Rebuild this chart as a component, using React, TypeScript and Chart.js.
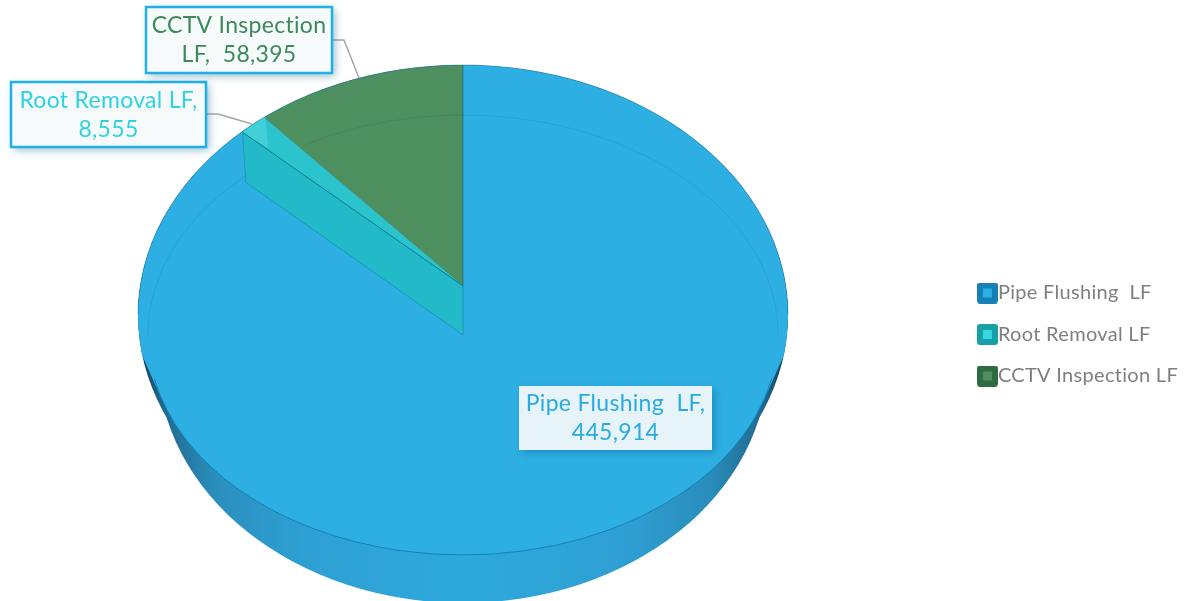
import React, { useEffect, useRef } from "react";
import { Chart, registerables } from "chart.js";

Chart.register(...registerables);

const categories = ["Pipe Flushing  LF", "Root Removal LF", "CCTV Inspection LF"];
const linearFeet = [445914, 8555, 58395];
const sliceColors = ["#2EAFE3", "#2BC3CC", "#4E8F60"];
const swatchOuter = ["#1580B5", "#17A0A6", "#2E6B41"];
const swatchInner = ["#2EAEE2", "#3AD6DF", "#4E8F60"];
const calloutText = ["#29ABE2", "#2DD3E0", "#3C8A5A"];

const FONT = "Lato, 'Noto Sans', sans-serif";
const CX = 463;
const E_BACK = { y: 315, rx: 325, ry: 250 };
const E_LOW = { y: 360, rx: 305, ry: 243 };
const E_TOP = { y: 335, rx: 315, ry: 220 };
const E_FLOOR = { y: 286, rx: 300, ry: 221 };
const E_WALL = { y: 335, rx: 297, ry: 224 };

type Ell = { y: number; rx: number; ry: number };

const ellipsePath = (ctx: CanvasRenderingContext2D, e: Ell) => {
  ctx.beginPath();
  ctx.ellipse(CX, e.y, e.rx, e.ry, 0, 0, Math.PI * 2);
};
const pointOn = (e: Ell, a: number, k = 1) => ({
  x: CX + Math.cos(a) * e.rx * k,
  y: e.y + Math.sin(a) * e.ry * k,
});
const poly = (ctx: CanvasRenderingContext2D, pts: { x: number; y: number }[]) => {
  ctx.beginPath();
  pts.forEach((p, i) => (i ? ctx.lineTo(p.x, p.y) : ctx.moveTo(p.x, p.y)));
};
const drawArcOn = (ctx: CanvasRenderingContext2D, arc: any, e: Ell, k = 1) => {
  ctx.save();
  ctx.translate(CX, e.y);
  ctx.scale((e.rx * k) / arc.outerRadius, (e.ry * k) / arc.outerRadius);
  ctx.translate(-arc.x, -arc.y);
  arc.draw(ctx);
  ctx.restore();
};

const pie3d = {
  id: "pie3d",
  beforeDatasetsDraw(chart: any) {
    const ctx: CanvasRenderingContext2D = chart.ctx;
    const arcs = chart.getDatasetMeta(0).data;
    const rootStart = arcs[1].startAngle;
    const cctvStart = arcs[2].startAngle;

    // side wall
    const g = ctx.createLinearGradient(138, 0, 788, 0);
    [
      [0, "#15425C"], [0.04, "#1F6A8F"], [0.12, "#2B8FBE"], [0.25, "#2E9FD2"],
      [0.5, "#2EA9DC"], [0.75, "#2E9FD2"], [0.88, "#2A8DBC"], [0.96, "#1F6A8F"], [1, "#123F58"],
    ].forEach(([s, c]) => g.addColorStop(s as number, c as string));
    ctx.fillStyle = g;
    ellipsePath(ctx, E_BACK);
    ctx.fill();
    ellipsePath(ctx, E_LOW);
    ctx.fill();

    // rim of the large slice, tapering into the wall at both sides
    ctx.save();
    poly(ctx, [
      { x: 0, y: 0 }, { x: 1185, y: 0 }, { x: 1185, y: 320 }, { x: 783, y: 357 },
      { x: 764, y: 400 }, { x: 162, y: 400 }, { x: 143, y: 357 }, { x: 0, y: 320 },
    ]);
    ctx.closePath();
    ctx.clip();
    ctx.fillStyle = sliceColors[0];
    ellipsePath(ctx, E_BACK);
    ctx.fill();
    ctx.restore();

    // top face of the large slice
    drawArcOn(ctx, arcs[0], E_TOP);

    // recessed slices
    ctx.save();
    ellipsePath(ctx, E_BACK);
    ctx.clip();
    drawArcOn(ctx, arcs[1], E_FLOOR, 1.06);
    drawArcOn(ctx, arcs[2], E_FLOOR, 1.06);
    ctx.restore();

    // wall of the cut
    const rimA = pointOn(E_FLOOR, rootStart, 1.0);
    const rimOuter = { x: rimA.x - 1, y: rimA.y - 3 };
    const corner = pointOn(E_WALL, rootStart);
    const apexLow = { x: CX, y: E_FLOOR.y };
    const apexTop = { x: CX, y: E_TOP.y };
    ctx.fillStyle = "#22BAC8";
    poly(ctx, [rimOuter, corner, apexTop, apexLow]);
    ctx.closePath();
    ctx.fill();

    // lighter patch at the rim of the small slice
    const rimB = pointOn(E_FLOOR, cctvStart, 1.0);
    ctx.fillStyle = "rgba(120,240,245,0.3)";
    poly(ctx, [rimOuter, { x: rimB.x - 1, y: rimB.y - 4 }, { x: rimB.x + 2, y: rimB.y + 29 }]);
    ctx.closePath();
    ctx.fill();

    // edges of the cut
    ctx.lineWidth = 1;
    ctx.strokeStyle = "rgba(10,110,135,0.85)";
    poly(ctx, [rimOuter, apexLow]);
    ctx.stroke();
    ctx.strokeStyle = "rgba(15,135,160,0.6)";
    poly(ctx, [rimOuter, corner, apexTop, apexLow]);
    ctx.stroke();
    ctx.strokeStyle = "rgba(20,105,145,0.75)";
    poly(ctx, [{ x: CX, y: E_BACK.y - E_BACK.ry }, apexLow]);
    ctx.stroke();

    // thin rim lines
    ctx.strokeStyle = "rgba(10,70,100,0.13)";
    ctx.beginPath();
    ctx.ellipse(CX, E_TOP.y, E_TOP.rx, E_TOP.ry, 0, (-120 * Math.PI) / 180, 0);
    ctx.stroke();
    ctx.beginPath();
    ctx.ellipse(CX, E_TOP.y, E_TOP.rx, E_TOP.ry, 0, Math.PI, (-133.5 * Math.PI) / 180 + Math.PI * 2);
    ctx.stroke();
    ctx.strokeStyle = "rgba(15,125,175,0.9)";
    ctx.beginPath();
    ctx.ellipse(CX, E_TOP.y, E_TOP.rx, E_TOP.ry, 0, 0.2, Math.PI - 0.2);
    ctx.stroke();
    ctx.strokeStyle = "rgba(20,90,130,0.4)";
    ctx.beginPath();
    ctx.ellipse(CX, E_BACK.y, E_BACK.rx, E_BACK.ry, 0, Math.PI, Math.PI * 2);
    ctx.stroke();
    return false;
  },
  afterDraw(chart: any) {
    const ctx: CanvasRenderingContext2D = chart.ctx;
    const callout = (
      i: number,
      box: [number, number, number, number],
      lines: string[],
      fill: string,
      border: boolean,
      leader?: number[][],
    ) => {
      if (leader) {
        ctx.strokeStyle = "#A6A6A6";
        ctx.lineWidth = 1.5;
        ctx.beginPath();
        leader.forEach((p, n) => (n ? ctx.lineTo(p[0], p[1]) : ctx.moveTo(p[0], p[1])));
        ctx.stroke();
      }
      ctx.save();
      ctx.shadowColor = "rgba(0,90,130,0.4)";
      ctx.shadowBlur = 8;
      ctx.shadowOffsetX = 3;
      ctx.shadowOffsetY = 3;
      ctx.fillStyle = fill;
      ctx.fillRect(box[0], box[1], box[2], box[3]);
      ctx.restore();
      if (border) {
        ctx.strokeStyle = "#1FB0E6";
        ctx.lineWidth = 2.5;
        ctx.strokeRect(box[0], box[1], box[2], box[3]);
      }
      ctx.fillStyle = calloutText[i];
      ctx.font = `23px ${FONT}`;
      (ctx as any).letterSpacing = "0.3px";
      ctx.textAlign = "center";
      ctx.textBaseline = "middle";
      const mid = box[0] + box[2] / 2;
      const c = box[1] + box[3] / 2;
      ctx.fillText(lines[0], mid, c - 14);
      ctx.fillText(lines[1], mid, c + 15);
    };
    const v = (i: number) => linearFeet[i].toLocaleString("en-US");
    callout(0, [519, 386, 193, 64], [`${categories[0]},`, v(0)], "#E6F4FA", false);
    callout(1, [11, 82, 195, 65], [`${categories[1]},`, v(1)], "#F6FAFB", true, [[206, 114], [218, 114], [252, 124]]);
    callout(2, [146, 7, 186, 66], ["CCTV Inspection", `LF,  ${v(2)}`], "#F6FAFB", true, [[332, 40], [344, 40], [359, 78]]);
  },
};

const spacing = {
  id: "spacing",
  beforeLayout(chart: any) {
    (chart.ctx as any).letterSpacing = "0.3px";
  },
  beforeDraw(chart: any) {
    (chart.ctx as any).letterSpacing = "0.3px";
  },
};

const swatch = (i: number) => {
  const c = document.createElement("canvas");
  c.width = 21;
  c.height = 21;
  const x = c.getContext("2d") as CanvasRenderingContext2D;
  x.fillStyle = swatchOuter[i];
  x.beginPath();
  x.roundRect(0, 0, 21, 21, 3);
  x.fill();
  x.fillStyle = swatchInner[i];
  x.fillRect(6, 6, 9, 9);
  return c;
};

export default function App() {
  const ref = useRef<HTMLCanvasElement | null>(null);
  useEffect(() => {
    if (!ref.current) return;
    const chart = new Chart(ref.current, {
      type: "pie",
      data: {
        labels: categories,
        datasets: [{ data: linearFeet, backgroundColor: sliceColors, borderWidth: 0 }],
      },
      plugins: [spacing, pie3d],
      options: {
        responsive: false,
        animation: false,
        layout: { padding: { top: 68, right: -3 } },
        plugins: {
          tooltip: { enabled: false },
          legend: {
            position: "right",
            labels: {
              usePointStyle: true,
              boxWidth: 1,
              padding: 21.5,
              color: "#7F7F7F",
              font: { family: FONT, size: 20 },
              generateLabels: () =>
                categories.map((text, i) => ({
                  text,
                  index: i,
                  pointStyle: swatch(i),
                  fontColor: "#7F7F7F",
                  hidden: false,
                })),
            },
          },
        },
      },
    } as any);
    return () => chart.destroy();
  }, []);
  return (
    <div style={{ position: "fixed", left: 0, top: 0, width: 1185, height: 601, background: "#fff" }}>
      <canvas ref={ref} width={1185} height={601} style={{ display: "block" }} />
    </div>
  );
}
